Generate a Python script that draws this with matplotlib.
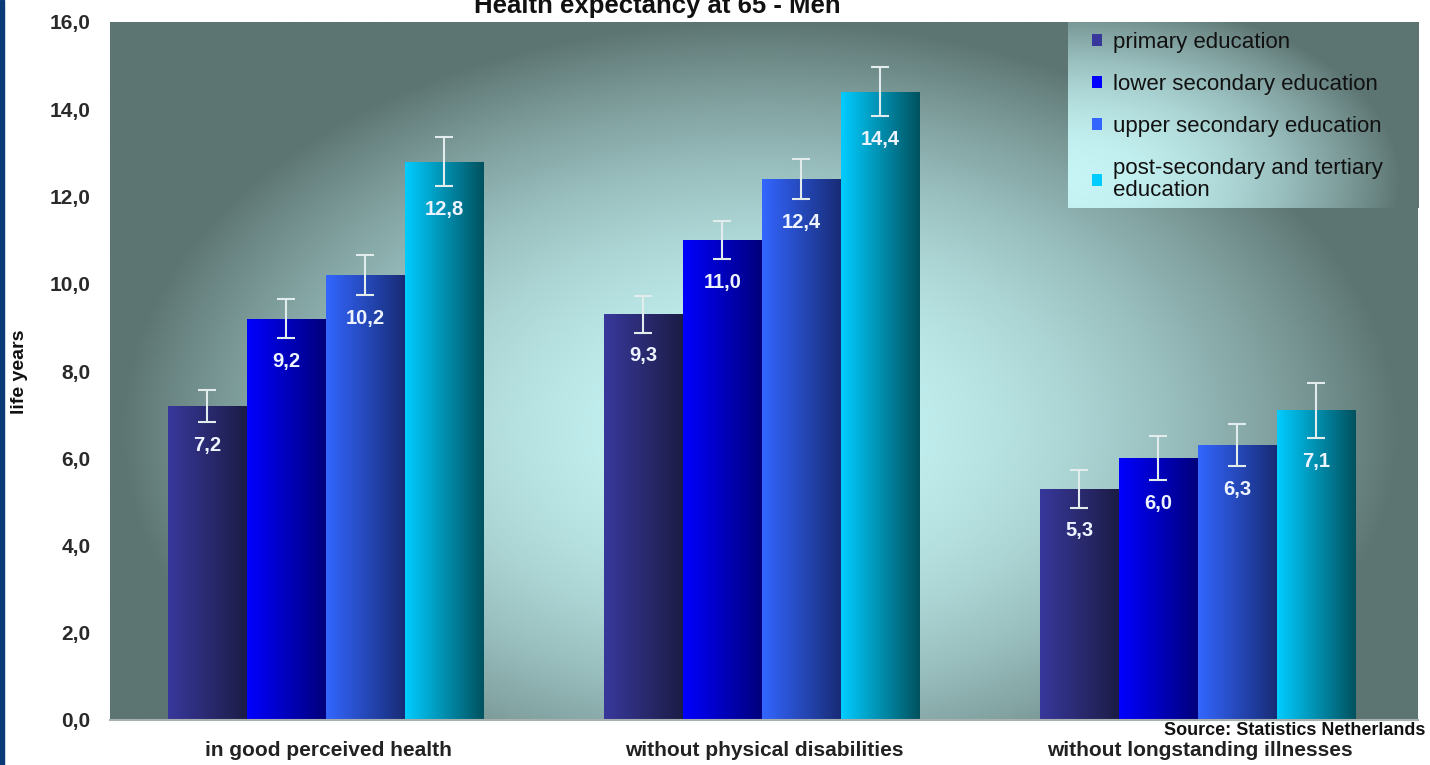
from matplotlib import pyplot as plt
from matplotlib.colors import LinearSegmentedColormap
from matplotlib.patches import Rectangle
import numpy as np

# Esperanza de vida saludable a los 65 (hombres) por nivel educativo
categorias = ['in good perceived health', 'without physical disabilities',
              'without longstanding illnesses']
niveles = ['primary education', 'lower secondary education',
           'upper secondary education', 'post-secondary and tertiary\neducation']
primaria = [7.2, 9.3, 5.3]
secundaria_baja = [9.2, 11.0, 6.0]
secundaria_alta = [10.2, 12.4, 6.3]
terciaria = [12.8, 14.4, 7.1]
# margen de error de cada barra
err_primaria = [0.37, 0.42, 0.43]
err_secundaria_baja = [0.45, 0.43, 0.50]
err_secundaria_alta = [0.45, 0.45, 0.48]
err_terciaria = [0.57, 0.56, 0.63]
yticks = [0, 2, 4, 6, 8, 10, 12, 14, 16]

series = [primaria, secundaria_baja, secundaria_alta, terciaria]
errores = [err_primaria, err_secundaria_baja, err_secundaria_alta, err_terciaria]
# color izquierdo y derecho del degradado de cada serie
colores = [('#38389c', '#1c1c46'), ('#0000ff', '#00007c'),
           ('#3366ff', '#182c76'), ('#00ccff', '#00525f')]

plt.rcParams['font.family'] = ['Liberation Sans', 'DejaVu Sans']

fig = plt.figure(figsize=(14.3, 7.65), dpi=100)
ax = fig.add_axes([110 / 1430, 45 / 765, 1308 / 1430, 698 / 765])

# Fondo con degradado radial
xx, yy = np.meshgrid(np.linspace(0, 1, 500), np.linspace(0, 1, 300))
px = 110 + xx * 1308
py = 720 - yy * 698
t = np.clip(1 - ((px - 760) / 640) ** 2 - ((py - 430) / 410) ** 2, 0, 1)
fondo = LinearSegmentedColormap.from_list('fondo', ['#5d7572', '#8fb3b2', '#c6f4f4'])
ax.imshow(t, cmap=fondo, vmin=0, vmax=1, extent=[0, 1, 0, 1], transform=ax.transAxes,
          origin='lower', aspect='auto', zorder=0)

# Barras con degradado horizontal
x = np.arange(len(categorias))
ancho = 0.181
for i, (valores, err, (c1, c2)) in enumerate(zip(series, errores, colores)):
    pos = x + (i - 1.5) * ancho - 0.005
    barras = ax.bar(pos, valores, ancho, color=c1, label=niveles[i], zorder=2)
    grad = LinearSegmentedColormap.from_list('g%d' % i, [c1, c2])
    for b in barras:
        x0, w, h = b.get_x(), b.get_width(), b.get_height()
        im = ax.imshow(np.linspace(0, 1, 100).reshape(1, -1), cmap=grad,
                       extent=[x0, x0 + w, 0, h], aspect='auto', zorder=2.2)
        im.set_clip_path(b)
    ax.errorbar(pos, valores, yerr=err, fmt='none', ecolor='#e2ecec', elinewidth=1.5,
                capsize=6.5, capthick=1.5, zorder=3)
    for xi, v, e in zip(pos, valores, err):
        ax.annotate(f'{v:.1f}'.replace('.', ','), (xi, v - e), xytext=(0, -10),
                    textcoords='offset points', ha='center', va='top',
                    color='#eef4ff', fontsize=14.5, fontweight='bold', zorder=4)

# Fondo de la leyenda
u, v = np.meshgrid(np.linspace(0, 1, 200), np.linspace(0, 1, 120))
tl = np.clip(1 - (u / 0.95) ** 2 - ((v - 0.15) / 1.0) ** 2, 0, 1)
ax.imshow(tl, cmap=fondo, vmin=0, vmax=1, extent=[0.7324, 1, 0.7335, 1],
          transform=ax.transAxes, origin='lower', aspect='auto', zorder=3)

ax.set_xlim(-0.5, 2.5)
ax.set_ylim(0, 16)
ax.set_yticks(yticks)
ax.set_yticklabels([f'{v:.1f}'.replace('.', ',') for v in yticks], fontsize=15,
                   fontweight='bold', color='#2a2a2a')
ax.set_xticks(x)
ax.set_xticklabels(categorias, fontsize=15, fontweight='bold', color='#222222')
ax.tick_params(axis='y', length=0, pad=14)
ax.tick_params(axis='x', length=0, pad=15)
for lado in ['top', 'left', 'right']:
    ax.spines[lado].set_visible(False)
ax.spines['bottom'].set_color('#a9b0b0')
ax.spines['bottom'].set_linewidth(1.5)

ley = ax.legend(loc='upper left', bbox_to_anchor=(0.7324 + 14 / 1308, 1.0), frameon=False,
                fontsize=16, handlelength=0.45, handleheight=0.45, handletextpad=0.5,
                labelspacing=0.95, borderaxespad=0, borderpad=0.45)
for texto in ley.get_texts():
    texto.set_color('#111111')
    texto.set_linespacing(1.05)

fig.text(0.46, 1 - 13 / 765, 'Health expectancy at 65 - Men', ha='center', va='baseline',
         fontsize=18.5, fontweight='bold', color='#111111')
fig.text(20 / 1430, 0.514, 'life years', rotation=90, ha='center', va='center',
         fontsize=14, fontweight='bold', color='#111111')
fig.text(1425 / 1430, 1 - 735 / 765, 'Source: Statistics Netherlands', ha='right',
         va='baseline', fontsize=13, fontweight='bold', color='#111111')

# borde azul a la izquierda
fig.add_artist(Rectangle((0, 0), 4 / 1430, 1, transform=fig.transFigure, color='#0b3a78'))

plt.savefig('out.png', dpi=100)
